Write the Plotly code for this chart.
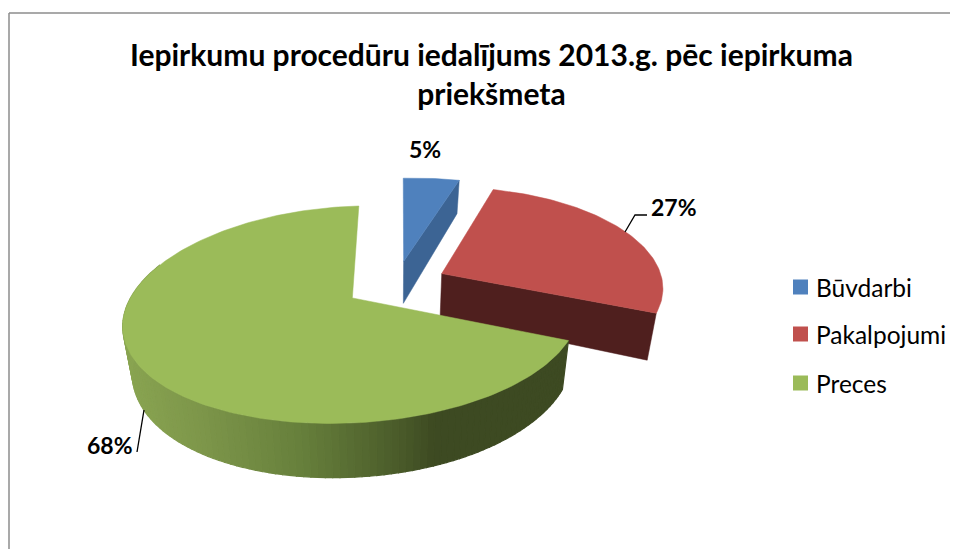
import math
import plotly.graph_objects as go

categories = ["Būvdarbi", "Pakalpojumi", "Preces"]
values = [5, 27, 68]
top_colors = ["#4f81bd", "#c0504d", "#9bbb59"]
wall_colors = ["#3c6494", "#4f1f1e", "#3d4a22"]
title_lines = ["Iepirkumu procedūru iedalījums 2013.g. pēc iepirkuma", "priekšmeta"]

# The page has an 8px body margin, so the figure covers screen pixels 8..958 and 8..549.
PAGE_MARGIN = 8
W, H = 958, 549

# projection of the tilted, exploded disc (screen pixels)
CX, CY, RX, RY, K, KX, TILT, EXPLODE = 396, 284, 220, 102, 0.151, 0.17, 0.026, 0.23
BOTTOM_SCALE = 0.965

# side shading of the large slice: screen x -> colour stops
GRAD = [(120, (138, 165, 82)), (200, (125, 150, 74)), (300, (103, 128, 60)),
        (400, (74, 91, 42)), (435, (61, 74, 34)), (600, (61, 74, 34))]


def project(u, v):
    w = 1 + K * v
    x = CX + RX * u / (1 + KX * v)
    return x, CY - RY * v / w - TILT * (x - CX), w


def rim(theta, ou, ov):
    t = math.radians(theta)
    return project(ou + math.sin(t), ov + math.cos(t))


def drop(p):
    x, y, w = p
    return CX + (x - CX) * BOTTOM_SCALE, y + 44 - 60 * (w - 1)


def grad_color(x):
    for (x0, c0), (x1, c1) in zip(GRAD, GRAD[1:]):
        if x <= x1:
            f = max(0.0, (x - x0) / (x1 - x0))
            return "rgb(%d,%d,%d)" % tuple(a + (b - a) * f for a, b in zip(c0, c1))
    return "rgb(61,74,34)"


fig = go.Figure()


def poly(pts, color, lw=0.5):
    fig.add_trace(go.Scatter(
        x=[p[0] for p in pts] + [pts[0][0]], y=[p[1] for p in pts] + [pts[0][1]],
        mode="lines", fill="toself", fillcolor=color,
        line=dict(color=color, width=lw), hoverinfo="skip", showlegend=False))


total = sum(values)
start = 0.0
slices = []
for val in values:
    sweep = 360.0 * val / total
    mid = math.radians(start + sweep / 2)
    slices.append((start, start + sweep, EXPLODE * math.sin(mid), EXPLODE * math.cos(mid)))
    start += sweep


def arc(a, b, n=80):
    return [a + (b - a) * i / n for i in range(n + 1)]


# slices 1 and 2: cut wall on their clockwise edge, then top
for idx in (0, 1):
    a, b, ou, ov = slices[idx]
    apex = project(ou, ov)
    end = rim(b, ou, ov)
    poly([apex[:2], end[:2], drop(end), drop(apex)], wall_colors[idx])
    poly([apex[:2]] + [rim(t, ou, ov)[:2] for t in arc(a, b)], top_colors[idx])

# slice 3: shaded outer wall in strips, then top
a, b, ou, ov = slices[2]
angles = arc(a, min(b, 292), 110)
for t0, t1 in zip(angles, angles[1:]):
    p0, p1 = rim(t0, ou, ov), rim(t1, ou, ov)
    poly([p0[:2], p1[:2], drop(p1), drop(p0)], grad_color((p0[0] + p1[0]) / 2), lw=1.2)
apex = project(ou, ov)
poly([apex[:2]] + [rim(t, ou, ov)[:2] for t in arc(a, b, 200)], top_colors[2])

# leader lines
fig.add_trace(go.Scatter(x=[625, 635, 647], y=[232, 215, 215], mode="lines",
                         line=dict(color="black", width=1.3), hoverinfo="skip", showlegend=False))
fig.add_trace(go.Scatter(x=[144, 137], y=[410, 452], mode="lines",
                         line=dict(color="black", width=1.3), hoverinfo="skip", showlegend=False))

# legend: square keys with their names beside them
legend_y = [287, 334, 383]
fig.add_trace(go.Scatter(x=[800.5] * 3, y=legend_y, mode="markers", hoverinfo="skip", showlegend=False,
                         marker=dict(symbol="square", size=15, color=top_colors, line=dict(width=0))))

label_pos = [(425, 149), (674, 207), (110, 445)]
annotations = [dict(x=x, y=y, text=f"<b>{v}%</b>", showarrow=False, xref="x", yref="y",
                    font=dict(family="Lato", size=23, color="black"))
               for (x, y), v in zip(label_pos, values)]
annotations.append(dict(x=491, y=73, xref="x", yref="y", showarrow=False, align="center",
                        text="<b>" + "<br>".join(title_lines) + "</b>",
                        font=dict(family="Lato", size=30, color="black")))
annotations += [dict(x=813.5, y=y, text=name, showarrow=False, xref="x", yref="y", xanchor="left",
                     font=dict(family="Lato", size=24.5, color="black"))
                for name, y in zip(categories, legend_y)]

fig.update_layout(
    width=W - PAGE_MARGIN, height=H - PAGE_MARGIN, margin=dict(l=0, r=0, t=0, b=0),
    paper_bgcolor="white", plot_bgcolor="white", annotations=annotations, showlegend=False,
    xaxis=dict(range=[PAGE_MARGIN, W], visible=False, fixedrange=True, domain=[0, 1]),
    yaxis=dict(range=[H, PAGE_MARGIN], visible=False, fixedrange=True, domain=[0, 1]),
    shapes=[dict(type="line", xref="x", yref="y", x0=9, x1=9, y0=13, y1=H,
                 line=dict(color="#8c8c8c", width=1.5)),
            dict(type="line", xref="x", yref="y", x0=9, x1=W, y0=13, y1=13,
                 line=dict(color="#8c8c8c", width=1.5))],
)
fig.write_html("out.html")
